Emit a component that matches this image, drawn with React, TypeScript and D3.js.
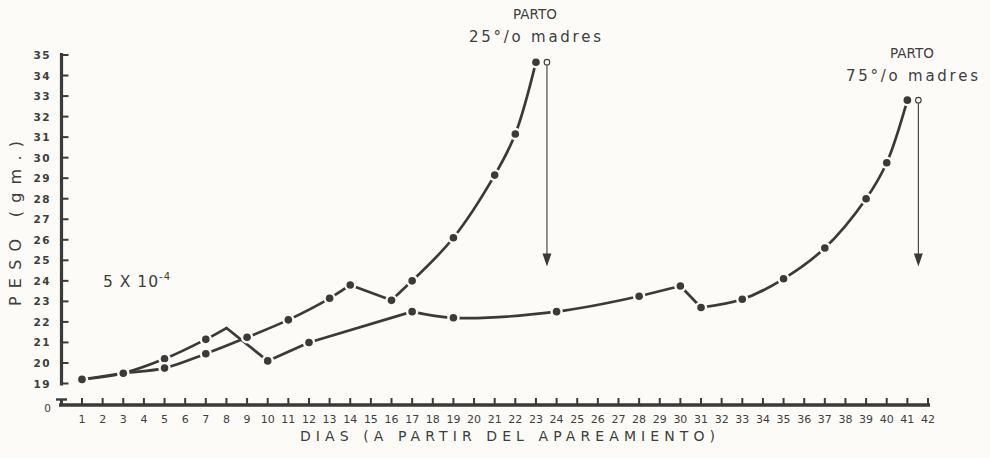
import React from "react";
import * as d3 from "d3";

// ---- data ----
const dayTicks = d3.range(1, 43);
const weightTicks = d3.range(19, 36);

// series ending in parto of 25% of the mothers
const days25 = [1, 3, 5, 7, 9, 11, 13, 14, 16, 17, 19, 21, 22, 23];
const weight25 = [19.2, 19.5, 19.75, 20.45, 21.25, 22.1, 23.15, 23.8, 23.05, 24.0, 26.1, 29.15, 31.15, 34.65];
const corners25 = [14, 16, 17];

// series ending in parto of 75% of the mothers
const days75 = [1, 3, 5, 7, 8, 10, 12, 17, 19, 24, 28, 30, 31, 33, 35, 37, 39, 40, 41];
const weight75 = [19.2, 19.5, 20.2, 21.15, 21.7, 20.1, 21.0, 22.5, 22.2, 22.5, 23.25, 23.75, 22.7, 23.1, 24.1, 25.6, 28.0, 29.75, 32.8];
const corners75 = [8, 10, 12, 17, 28, 30, 31];
const undotted75 = [8];

const partoTitle = "PARTO";
const partoLabels = ["25°/o madres", "75°/o madres"];
const arrowTipWeight = 24.7;

const xTitle = "DIAS (A PARTIR DEL APAREAMIENTO)";
const yTitle = "PESO (gm.)";
const scaleNote = "5 X 10";
const scaleExp = "-4";

// ---- drawing ----
const W = 990;
const H = 458;
const BG = "#fcfbf7";
const INK = "#3a3a3a";
const TXT = "#3e3e3e";
const FONT = "'DejaVu Sans', Verdana, sans-serif";

const x = d3.scaleLinear().domain([1, 42]).range([82, 928]);
const y = d3.scaleLinear().domain([19, 35]).range([383.5, 55]);
const AXIS_Y = 405;
const AXIS_X = 61.5;

type P = { d: number; w: number; dot: boolean };

function Series({ pts, corners }: { pts: P[]; corners: number[] }) {
  const line = d3
    .line<P>()
    .x((p) => x(p.d))
    .y((p) => y(p.w))
    .curve(d3.curveCatmullRom.alpha(0.5));
  // split the polyline at sharp corners into smooth pieces
  const pieces: P[][] = [];
  let cur: P[] = [];
  pts.forEach((p, i) => {
    cur.push(p);
    if (corners.includes(p.d) && i > 0 && i < pts.length - 1) {
      pieces.push(cur);
      cur = [p];
    }
  });
  pieces.push(cur);
  return (
    <g>
      {pieces.map((pc, i) => (
        <path key={i} d={line(pc) || ""} fill="none" stroke={INK} strokeWidth={2.7} strokeLinecap="round" strokeLinejoin="round" />
      ))}
      {pts
        .filter((p) => p.dot)
        .map((p, i) => (
          <circle key={"g" + i} cx={x(p.d)} cy={y(p.w)} r={6.2} fill={BG} />
        ))}
      {pts
        .filter((p) => p.dot)
        .map((p, i) => (
          <circle key={"d" + i} cx={x(p.d)} cy={y(p.w)} r={3.8} fill={INK} />
        ))}
    </g>
  );
}

function Parto({ d, w, label, tx, ty }: { d: number; w: number; label: string; tx: number; ty: number }) {
  const ax = x(d) + 11;
  const ay = y(w);
  const tip = y(arrowTipWeight);
  return (
    <g>
      <line x1={ax} y1={ay + 3} x2={ax} y2={tip - 10} stroke={INK} strokeWidth={1.1} />
      <path d={`M${ax - 4.5},${tip - 13} L${ax + 4.5},${tip - 13} L${ax},${tip} Z`} fill={INK} />
      <circle cx={ax} cy={ay} r={2.8} fill={BG} stroke={INK} strokeWidth={1.1} />
      <text x={tx - 22} y={ty} fontSize={13.5} fill={TXT} fontFamily={FONT} textLength={44} lengthAdjust="spacing">
        {partoTitle}
      </text>
      <text x={tx - 66} y={ty + 23} fontSize={15} fill={TXT} fontFamily={FONT} textLength={132} lengthAdjust="spacing">
        {label}
      </text>
    </g>
  );
}

export default function App() {
  const pts25: P[] = days25.map((d, i) => ({ d, w: weight25[i], dot: true }));
  const pts75: P[] = days75.map((d, i) => ({ d, w: weight75[i], dot: !undotted75.includes(d) }));
  const last25 = pts25[pts25.length - 1];
  const last75 = pts75[pts75.length - 1];

  return (
    <svg
      width={W}
      height={H}
      viewBox={`0 0 ${W} ${H}`}
      style={{ position: "absolute", left: 0, top: 0, background: BG }}
    >
      <rect x={0} y={0} width={W} height={H} fill={BG} />

      {/* Y axis */}
      <line x1={AXIS_X} y1={y(35) - 2} x2={AXIS_X} y2={y(19) + 2} stroke={INK} strokeWidth={3.2} />
      {weightTicks.map((t) => (
        <g key={t}>
          <line x1={AXIS_X} y1={y(t)} x2={AXIS_X + 7} y2={y(t)} stroke={INK} strokeWidth={2} />
          <text
            x={51}
            y={y(t) + 4}
            textAnchor="end"
            fontSize={10.5}
            fontWeight="bold"
            fill={TXT}
            fontFamily={FONT}
            letterSpacing={1.5}
          >
            {t}
          </text>
        </g>
      ))}
      {/* broken axis at zero */}
      <line x1={56} y1={399.5} x2={67} y2={399.5} stroke={INK} strokeWidth={2.4} />
      <line x1={AXIS_X} y1={399.5} x2={AXIS_X} y2={AXIS_Y} stroke={INK} strokeWidth={3} />
      <text x={51} y={412} textAnchor="end" fontSize={10.5} fill={TXT} fontFamily={FONT}>
        0
      </text>

      {/* X axis */}
      <line x1={59} y1={AXIS_Y} x2={930} y2={AXIS_Y} stroke={INK} strokeWidth={3.6} />
      {dayTicks.map((t) => (
        <g key={t}>
          <line x1={x(t)} y1={AXIS_Y} x2={x(t)} y2={AXIS_Y - 7} stroke={INK} strokeWidth={2} />
          <text x={x(t)} y={423} textAnchor="middle" fontSize={11} fill={TXT} fontFamily={FONT}>
            {t}
          </text>
        </g>
      ))}

      {/* Titles */}
      <text x={300} y={441} fontSize={14} fill={TXT} fontFamily={FONT} textLength={415} lengthAdjust="spacing">
        {xTitle}
      </text>
      <text
        transform={`translate(21, ${306}) rotate(-90)`}
        fontSize={16}
        fill={TXT}
        fontFamily={FONT}
        textLength={165}
        lengthAdjust="spacing"
      >
        {yTitle}
      </text>
      <text x={103} y={287} fontSize={15.5} fill={TXT} fontFamily={FONT} letterSpacing={1}>
        {scaleNote}
        <tspan dy={-7} fontSize={10}>
          {scaleExp}
        </tspan>
      </text>

      <Series pts={pts75} corners={corners75} />
      <Series pts={pts25} corners={corners25} />

      <Parto d={last25.d} w={last25.w} label={partoLabels[0]} tx={535} ty={19} />
      <Parto d={last75.d} w={last75.w} label={partoLabels[1]} tx={912} ty={58} />
    </svg>
  );
}
